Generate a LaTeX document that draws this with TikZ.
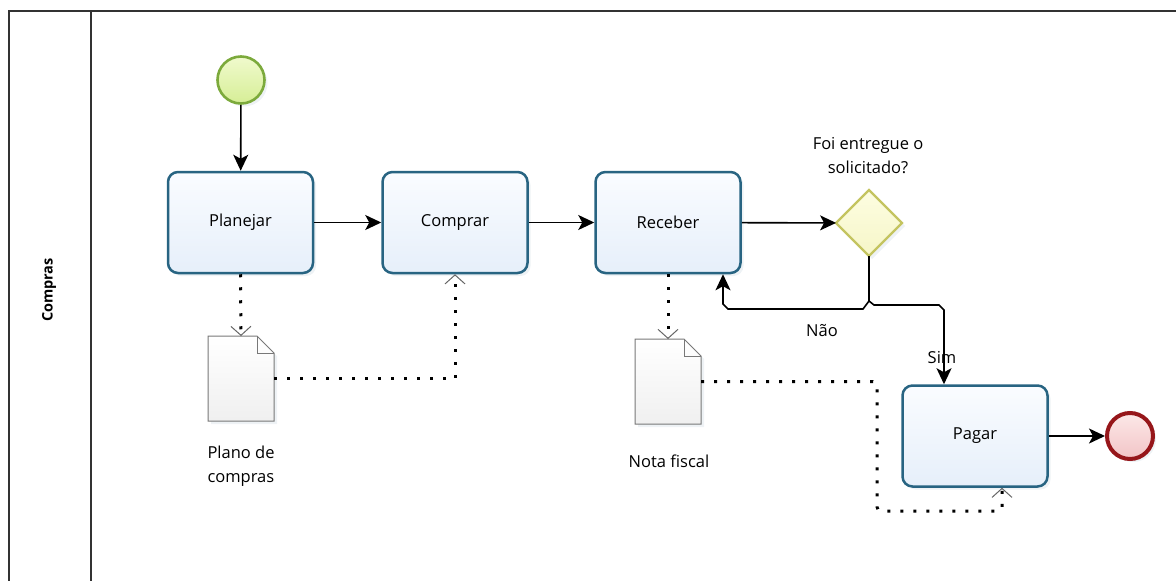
\documentclass[tikz,border=0pt]{standalone}
\usepackage{fontspec}
\setmainfont{Open Sans}
\usetikzlibrary{arrows.meta,shapes.geometric,shadows}

\definecolor{taskborder}{RGB}{40,100,130}
\definecolor{tasktop}{RGB}{250,252,255}
\definecolor{taskbot}{RGB}{230,239,250}
\definecolor{startborder}{RGB}{124,170,60}
\definecolor{starttop}{RGB}{240,250,205}
\definecolor{startbot}{RGB}{214,238,150}
\definecolor{endborder}{RGB}{150,22,26}
\definecolor{endtop}{RGB}{252,232,232}
\definecolor{endbot}{RGB}{242,196,198}
\definecolor{gwborder}{RGB}{196,196,96}
\definecolor{gwtop}{RGB}{253,253,225}
\definecolor{gwbot}{RGB}{246,246,200}
\definecolor{docborder}{RGB}{120,120,120}
\definecolor{lanecol}{RGB}{50,50,50}

\begin{document}
\begin{tikzpicture}[x=1pt,y=-1pt,
  font=\fontsize{16.5}{24}\selectfont,
  softshadow/.style={drop shadow={shadow xshift=3pt,shadow yshift=-3pt,opacity=0.16,fill=taskborder!50}},
  task/.style={rectangle,rounded corners=10pt,draw=taskborder,line width=2.5pt,
    top color=tasktop,bottom color=taskbot,minimum width=145pt,minimum height=101pt,
    inner sep=0pt,softshadow},
  startev/.style={circle,draw=startborder,line width=2.6pt,top color=starttop,bottom color=startbot,
    minimum size=47pt,inner sep=0pt,softshadow},
  endev/.style={circle,draw=endborder,line width=4pt,top color=endtop,bottom color=endbot,
    minimum size=46pt,inner sep=0pt,softshadow},
  gateway/.style={diamond,draw=gwborder,line width=2.2pt,top color=gwtop,bottom color=gwbot,
    minimum width=66pt,minimum height=66pt,inner sep=0pt,outer sep=0pt,softshadow},
  docbox/.style={rectangle,minimum width=66pt,minimum height=85pt,inner sep=0pt,outer sep=0pt},
  docshape/.style={draw=docborder,line width=1pt,top color=white,bottom color=black!6,softshadow},
  flow/.style={line width=1.6pt,black,-{Stealth[length=16pt,width=15pt,inset=4pt]}},
  assoc/.style={line width=3pt,black,dash pattern=on 3pt off 10pt,
    -{Straight Barb[length=9pt,width=20pt,line width=1pt,color=black!60]}},
  lane/.style={line width=1.5pt,lanecol}
]
\useasboundingbox (0,0) rectangle (1176,581);

% pool / lane frame
\draw[lane] (9,581) -- (9,11) -- (1176,11);
\draw[lane] (91,11) -- (91,581);
\node[font=\bfseries\fontsize{14.5}{17}\selectfont,rotate=90] (lanename) at (49,290) {Compras};

% events, tasks and gateway
\node[startev] (start) at (241,80) {};
\node[task] (plan) at (240.5,222.5) {Planejar};
\node[task] (comp) at (455,222.5) {Comprar};
\node[task] (rec) at (668,222.5) {Receber};
\node[gateway] (gw) at (869,223) {};
\node[task] (pag) at (975,436) {Pagar};
\node[endev] (end) at (1130,436) {};

% data objects
\node[docbox] (doc1) at (241,378.5) {};
\node[docbox] (doc2) at (668,381.5) {};
\foreach \d in {doc1,doc2}{
  \draw[docshape] (\d.north west) -- ([xshift=-17pt]\d.north east)
    -- ([yshift=-17pt]\d.north east) -- (\d.south east) -- (\d.south west) -- cycle;
  \draw[docborder,line width=0.8pt] ([xshift=-17pt]\d.north east) |- ([yshift=-17pt]\d.north east);
}

% labels
\node[align=center] (question) at (868,156) {Foi entregue o\\solicitado?};
\node (nao) at (822,331) {Não};
\node[align=left,anchor=west] (doc1label) at (204,466) {Plano de\\compras};
\node (doc2label) at (669,461) {Nota fiscal};

% sequence flows
\draw[flow] (start) -- (plan);
\draw[flow] (plan) -- (comp);
\draw[flow] (comp) -- (rec);
\draw[flow] (rec) -- (gw);
\draw[flow] (pag) -- (end);

\coordinate (jump) at (869,301);
\coordinate (pagtop) at ([xshift=-31pt]pag.north);
\coordinate (recbot) at ([xshift=55pt]rec.south);
\draw[flow] (gw.south) -- (jump) -- ++(5,4) -- (939,305) -- (944,310) -- (pagtop);
\draw[flow] (jump) -- ++(-6,8) -- (728,309) -- (723,304) -- (recbot);
\node (sim) at (942,358) {Sim};

% associations
\draw[assoc] (plan.south) -- (doc1.north);
\draw[assoc] (doc1.east) -| (comp.south);
\draw[assoc] (rec.south) -- (doc2.north);
\coordinate (pagbot) at ([xshift=27pt]pag.south);
\coordinate (bend) at (877,511);
\draw[assoc,rounded corners=4pt] (doc2.east) -- (bend |- doc2.east) -- (bend) -- (pagbot |- bend) -- (pagbot);
\end{tikzpicture}
\end{document}
